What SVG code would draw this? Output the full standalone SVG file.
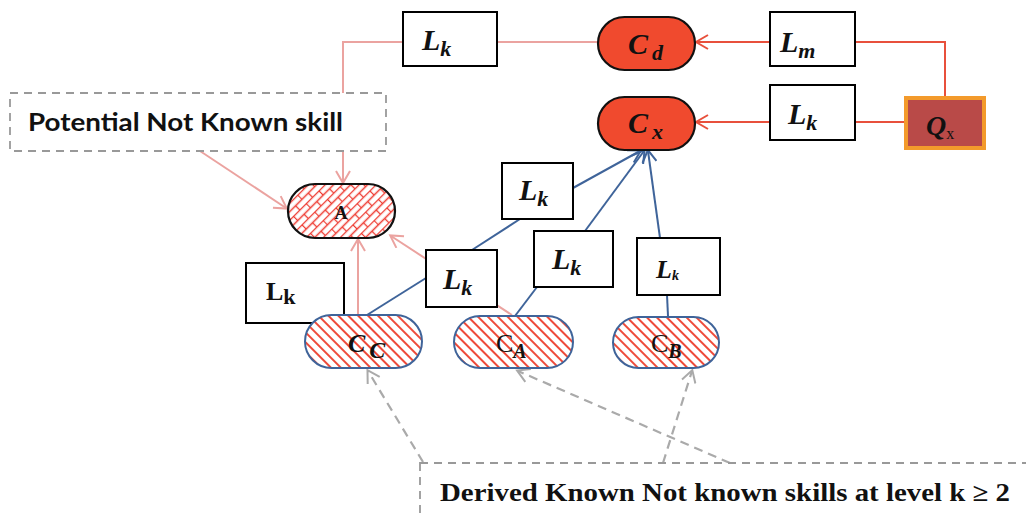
<svg xmlns="http://www.w3.org/2000/svg" width="1026" height="514" viewBox="0 0 1026 514">
<style>
.box{fill:#fff;stroke:#000;stroke-width:2}
.lbl{font-family:"Liberation Serif",serif;font-style:italic;font-weight:bold;fill:#111}
.big{font-size:30px}
.sub{font-size:22px}
.red{fill:none;stroke:#e8503c;stroke-width:2}
.pink{fill:none;stroke:#eba3a0;stroke-width:2}
.blue{fill:none;stroke:#3f649a;stroke-width:2}
.gray{fill:none;stroke:#aaaaaa;stroke-width:2.2;stroke-dasharray:9 6}
.dash{fill:#fff;stroke:#999;stroke-width:1.8;stroke-dasharray:8 6}
</style>
<defs>
<pattern id="stripes" width="7" height="7" patternUnits="userSpaceOnUse" patternTransform="rotate(-45)">
<rect width="7" height="7" fill="#fff"/>
<line x1="2" y1="0" x2="2" y2="7" stroke="#ee4a3a" stroke-width="2"/>
</pattern>
<pattern id="brick" width="18" height="12" patternUnits="userSpaceOnUse" patternTransform="rotate(-45)">
<rect width="18" height="12" fill="#fff"/>
<path d="M0 0.5H18M0 6.5H18M0.5 0V6M9.5 6V12" stroke="#ee3a30" stroke-width="1.3" fill="none"/>
</pattern>
<marker id="arR" markerWidth="16" markerHeight="16" refX="13" refY="8" orient="auto" markerUnits="userSpaceOnUse">
<path d="M2 1L14 8L2 15" fill="none" stroke="#e8503c" stroke-width="2"/>
</marker>
<marker id="arP" markerWidth="16" markerHeight="16" refX="13" refY="8" orient="auto" markerUnits="userSpaceOnUse">
<path d="M2 1L14 8L2 15" fill="none" stroke="#eba3a0" stroke-width="2"/>
</marker>
<marker id="arB" markerWidth="16" markerHeight="16" refX="13" refY="8" orient="auto" markerUnits="userSpaceOnUse">
<path d="M2 1L14 8L2 15" fill="none" stroke="#3f649a" stroke-width="2"/>
</marker>
<marker id="arG" markerWidth="16" markerHeight="16" refX="13" refY="8" orient="auto" markerUnits="userSpaceOnUse">
<path d="M2 1L14 8L2 15" fill="none" stroke="#aaaaaa" stroke-width="2"/>
</marker>
</defs>
<rect width="1026" height="514" fill="#fff"/>

<g id="connectors">
<path class="red" d="M945 97V42H855" />
<path class="red" d="M770 42H697" marker-end="url(#arR)"/>
<path class="red" d="M905 122H855"/>
<path class="red" d="M770 122H697" marker-end="url(#arR)"/>
<path class="pink" d="M598 42H497"/>
<path class="pink" d="M403 42H343V93"/>
<path class="pink" d="M343 151V182" marker-end="url(#arP)"/>
<path class="pink" d="M200 151L286 208" marker-end="url(#arP)"/>
<path class="pink" d="M358 315V240" marker-end="url(#arP)"/>
<path class="pink" d="M512 315L391 236" marker-end="url(#arP)"/>
<path class="blue" d="M367 315L426 278"/>
<path class="blue" d="M472 250L520 219"/>
<path class="blue" d="M573 188L640 151" marker-end="url(#arB)"/>
<path class="blue" d="M515 316L537 287"/>
<path class="blue" d="M585 231L644 151" marker-end="url(#arB)"/>
<path class="blue" d="M668 316L667 295"/>
<path class="blue" d="M660 238L648 151" marker-end="url(#arB)"/>
<path class="gray" d="M423 462L368 371" marker-end="url(#arG)"/>
<path class="gray" d="M730 463L518 371" marker-end="url(#arG)"/>
<path class="gray" d="M663 463L692 371" marker-end="url(#arG)"/>
</g>

<g id="note-potential">
<rect class="dash" x="10" y="93" width="376" height="58"/>
<text x="28" y="131" font-family="Lato, 'Open Sans', sans-serif" font-weight="bold" font-size="25" textLength="315" lengthAdjust="spacingAndGlyphs" fill="#111">Potential Not Known skill</text>
</g>

<g id="note-derived">
<rect class="dash" x="420" y="463" width="620" height="70"/>
<text x="440" y="501" font-family="'Liberation Serif', serif" font-weight="bold" font-size="25" textLength="570" lengthAdjust="spacingAndGlyphs" fill="#111">Derived Known Not known skills at level k ≥ 2</text>
</g>

<g id="Lk-top">
<rect class="box" x="403" y="12" width="94" height="54"/>
<text class="lbl" x="422" y="50"><tspan class="big">L</tspan><tspan class="sub" dy="6">k</tspan></text>
</g>
<g id="Cd">
<rect x="598" y="17" width="97" height="53" rx="26.5" fill="#f04a2e" stroke="#111" stroke-width="2.2"/>
<text class="lbl" x="628" y="54"><tspan class="big">C</tspan><tspan class="sub" dx="4" dy="6">d</tspan></text>
</g>
<g id="Lm">
<rect class="box" x="770" y="12" width="85" height="54"/>
<text class="lbl" x="780" y="52"><tspan class="big">L</tspan><tspan class="sub" dy="6">m</tspan></text>
</g>
<g id="Cx">
<rect x="598" y="97" width="97" height="53" rx="26.5" fill="#f04a2e" stroke="#111" stroke-width="2.2"/>
<text class="lbl" x="628" y="133"><tspan class="big">C</tspan><tspan class="sub" dx="4" dy="6">x</tspan></text>
</g>
<g id="Lk-right">
<rect class="box" x="770" y="85" width="85" height="55"/>
<text class="lbl" x="788" y="124"><tspan class="big">L</tspan><tspan class="sub" dy="6">k</tspan></text>
</g>
<g id="Qx">
<rect x="906" y="98" width="78" height="50" fill="#b94a48" stroke="#f39a2b" stroke-width="4"/>
<text class="lbl" x="926" y="135"><tspan font-size="28">Q</tspan><tspan font-size="16" font-style="normal" font-weight="normal" dy="4">x</tspan></text>
</g>
<g id="A">
<rect x="288" y="184" width="107" height="54" rx="27" fill="url(#brick)" stroke="#111" stroke-width="2.2"/>
<text x="341" y="219" text-anchor="middle" font-family="'Liberation Serif', serif" font-weight="bold" font-size="18" fill="#111">A</text>
</g>
<g id="Lk-left">
<rect class="box" x="246" y="263" width="98" height="60"/>
<text x="266" y="300" font-family="'Liberation Serif', serif" font-weight="bold" fill="#111"><tspan font-size="26">L</tspan><tspan font-size="22" dy="4">k</tspan></text>
</g>
<g id="Lk-mid">
<rect class="box" x="426" y="250" width="71" height="57"/>
<text class="lbl" x="443" y="289"><tspan class="big">L</tspan><tspan class="sub" dy="6">k</tspan></text>
</g>
<g id="Lk-upper">
<rect class="box" x="502" y="163" width="71" height="56"/>
<text class="lbl" x="519" y="200"><tspan class="big">L</tspan><tspan class="sub" dy="6">k</tspan></text>
</g>
<g id="Lk-third">
<rect class="box" x="534" y="231" width="79" height="56"/>
<text class="lbl" x="552" y="269"><tspan class="big">L</tspan><tspan class="sub" dy="6">k</tspan></text>
</g>
<g id="Lk-fourth">
<rect class="box" x="637" y="238" width="83" height="57"/>
<text class="lbl" x="656" y="278"><tspan font-size="26">L</tspan><tspan font-size="14" dy="2">k</tspan></text>
</g>
<g id="CC">
<rect x="305" y="315" width="117" height="53" rx="26.5" fill="url(#stripes)" stroke="#3f649a" stroke-width="2"/>
<text class="lbl" x="348" y="352"><tspan font-size="26">C</tspan><tspan font-size="24" dx="4" dy="6">C</tspan></text>
</g>
<g id="CA">
<rect x="454" y="316" width="119" height="52" rx="26" fill="url(#stripes)" stroke="#3f649a" stroke-width="2"/>
<text class="lbl" x="496" y="352"><tspan font-size="26" font-style="normal" font-weight="normal">C</tspan><tspan font-size="20" dy="6">A</tspan></text>
</g>
<g id="CB">
<rect x="613" y="317" width="106" height="51" rx="25.5" fill="url(#stripes)" stroke="#3f649a" stroke-width="2"/>
<text class="lbl" x="651" y="352"><tspan font-size="26" font-style="normal" font-weight="normal">C</tspan><tspan font-size="20" dy="6">B</tspan></text>
</g>
</svg>
